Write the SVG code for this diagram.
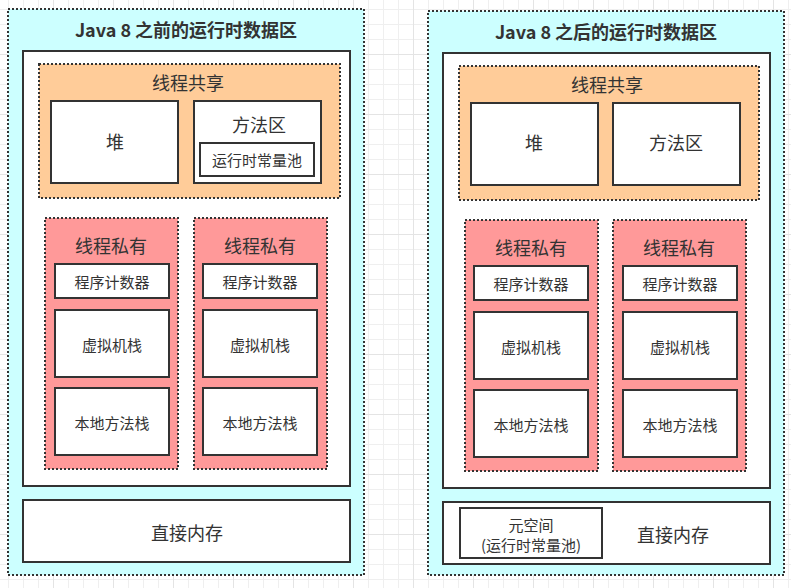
<svg xmlns="http://www.w3.org/2000/svg" width="791" height="588" viewBox="0 0 791 588">
<defs>
<pattern id="grid" patternUnits="userSpaceOnUse" x="-7" y="-6" width="60" height="60">
<rect width="60" height="60" fill="#ffffff"/>
<path d="M15.5 0V60M30.5 0V60M45.5 0V60M0 15.5H60M0 30.5H60M0 45.5H60" stroke="#efefef" stroke-width="1" fill="none"/>
<path d="M0.5 0V60M0 0.5H60" stroke="#e4e4e4" stroke-width="1" fill="none"/>
</pattern>
<style>
text{font-family:"Microsoft YaHei","Noto Sans CJK SC","Noto Sans",sans-serif;fill:#333333;text-anchor:middle;dominant-baseline:central}
.title{font-size:18px;font-weight:bold}
.big{font-size:18px}
.small{font-size:15px}
.outer{fill:#CCFFFF;stroke:#333333;stroke-width:2;stroke-dasharray:2 2}
.shared{fill:#FFCC99;stroke:#333333;stroke-width:2;stroke-dasharray:2 2}
.private{fill:#FF9999;stroke:#333333;stroke-width:2;stroke-dasharray:2 2}
.box{fill:#ffffff;stroke:#333333;stroke-width:2}
</style>
</defs>
<rect width="791" height="588" fill="url(#grid)"/>
<g id="connectors"/>
<g id="before">
<g id="before-area"><rect class="outer" x="8" y="9" width="356" height="566"/><text class="title" x="186" y="29">Java 8 之前的运行时数据区</text></g>
<g id="before-jvm"><rect class="box" x="23" y="51" width="327" height="435"/></g>
<g id="before-shared"><rect class="shared" x="39" y="64" width="301" height="134"/><text class="big" x="188" y="82">线程共享</text></g>
<g id="before-heap"><rect class="box" x="51" y="101" width="127" height="82"/><text class="big" x="115" y="141">堆</text></g>
<g id="before-method"><rect class="box" x="194" y="101" width="127" height="82"/><text class="big" x="259" y="124">方法区</text></g>
<g id="before-pool"><rect class="box" x="200" y="143" width="114" height="33"/><text class="small" x="257" y="159">运行时常量池</text></g>
<g id="before-private1"><rect class="private" x="45" y="218" width="133" height="251"/><text class="big" x="111" y="245">线程私有</text></g>
<g id="before-pc1"><rect class="box" x="55" y="264" width="114" height="34"/><text class="small" x="112" y="281">程序计数器</text></g>
<g id="before-vms1"><rect class="box" x="55" y="310" width="114" height="67"/><text class="small" x="112" y="344">虚拟机栈</text></g>
<g id="before-nms1"><rect class="box" x="55" y="388" width="114" height="67"/><text class="small" x="112" y="422">本地方法栈</text></g>
<g id="before-private2"><rect class="private" x="194" y="218" width="133" height="251"/><text class="big" x="260" y="245">线程私有</text></g>
<g id="before-pc2"><rect class="box" x="203" y="264" width="114" height="34"/><text class="small" x="260" y="281">程序计数器</text></g>
<g id="before-vms2"><rect class="box" x="203" y="310" width="114" height="67"/><text class="small" x="260" y="344">虚拟机栈</text></g>
<g id="before-nms2"><rect class="box" x="203" y="388" width="114" height="67"/><text class="small" x="260" y="422">本地方法栈</text></g>
<g id="before-direct"><rect class="box" x="23" y="500" width="327" height="62"/><text class="big" x="187" y="532">直接内存</text></g>
</g>
<g id="after">
<g id="after-area"><rect class="outer" x="428" y="11" width="356" height="564"/><text class="title" x="606" y="31">Java 8 之后的运行时数据区</text></g>
<g id="after-jvm"><rect class="box" x="443" y="53" width="327" height="435"/></g>
<g id="after-shared"><rect class="shared" x="459" y="66" width="300" height="134"/><text class="big" x="607" y="84">线程共享</text></g>
<g id="after-heap"><rect class="box" x="471" y="103" width="127" height="82"/><text class="big" x="534" y="142">堆</text></g>
<g id="after-method"><rect class="box" x="613" y="103" width="127" height="82"/><text class="big" x="676" y="142">方法区</text></g>
<g id="after-private1"><rect class="private" x="465" y="220" width="133" height="251"/><text class="big" x="531" y="247">线程私有</text></g>
<g id="after-pc1"><rect class="box" x="474" y="266" width="114" height="34"/><text class="small" x="531" y="283">程序计数器</text></g>
<g id="after-vms1"><rect class="box" x="474" y="312" width="114" height="67"/><text class="small" x="531" y="346">虚拟机栈</text></g>
<g id="after-nms1"><rect class="box" x="474" y="390" width="114" height="67"/><text class="small" x="531" y="424">本地方法栈</text></g>
<g id="after-private2"><rect class="private" x="613" y="220" width="133" height="251"/><text class="big" x="679" y="247">线程私有</text></g>
<g id="after-pc2"><rect class="box" x="623" y="266" width="114" height="34"/><text class="small" x="680" y="283">程序计数器</text></g>
<g id="after-vms2"><rect class="box" x="623" y="312" width="114" height="67"/><text class="small" x="680" y="346">虚拟机栈</text></g>
<g id="after-nms2"><rect class="box" x="623" y="390" width="114" height="67"/><text class="small" x="680" y="424">本地方法栈</text></g>
<g id="after-direct"><rect class="box" x="443" y="502" width="327" height="62"/><text class="big" x="673" y="534">直接内存</text></g>
<g id="after-metaspace"><rect class="box" x="460" y="508" width="142" height="50"/><text class="small" x="531" y="524">元空间</text><text class="small" x="531" y="544">(运行时常量池)</text></g>
</g>
</svg>
